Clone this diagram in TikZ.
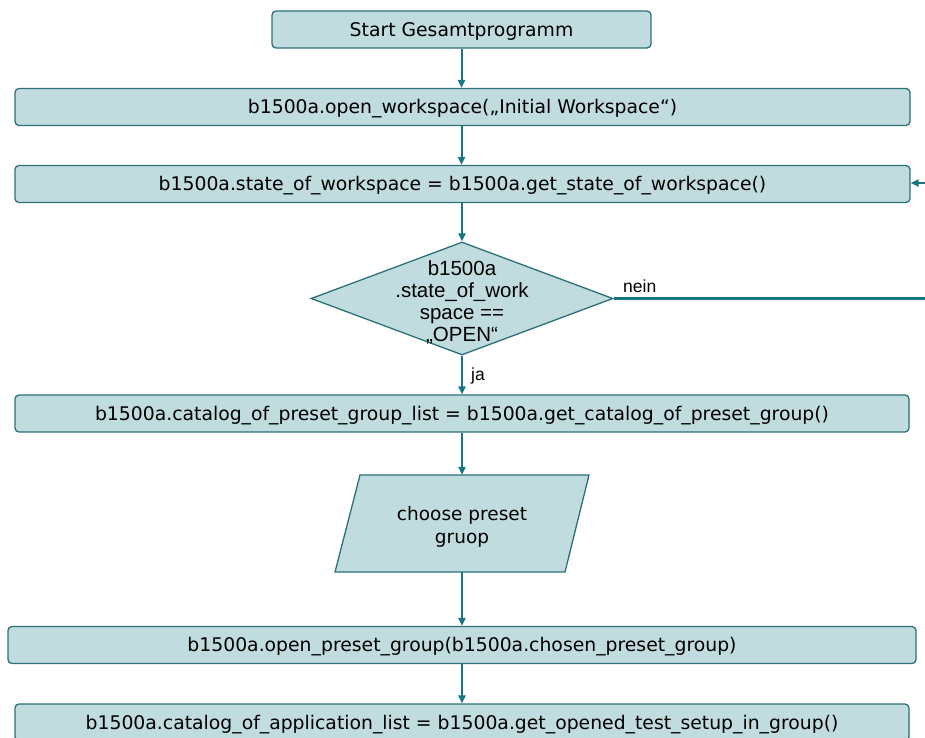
\documentclass[tikz,border=0pt]{standalone}
\usepackage{fontspec}
\setmainfont{DejaVu Sans}
\newfontfamily\labelfont{Liberation Sans}
\usetikzlibrary{shapes.geometric,arrows.meta,calc}

\definecolor{boxfill}{RGB}{193,220,222}
\definecolor{boxline}{RGB}{45,112,120}
\definecolor{arrowc}{RGB}{22,118,130}

\tikzset{
  procbox/.style={draw=boxline, fill=boxfill, rounded corners=4pt, line width=1.3pt,
    minimum height=37pt, inner sep=0pt, text height=14pt, text depth=1pt,
    font=\fontsize{18.8}{22}\selectfont},
  flow/.style={draw=arrowc, line width=2pt, -{Triangle[length=8pt,width=7pt]}},
  branch/.style={draw=arrowc, line width=2.5pt},
  tag/.style={font=\labelfont\fontsize{17.5}{19}\selectfont, inner sep=0pt}
}

\begin{document}
\begin{tikzpicture}[x=1pt,y=-1pt]
\useasboundingbox (0,0) rectangle (925,737);

% process boxes
\node[procbox, minimum width=379pt] (start) at (461.5,29.5) {Start Gesamtprogramm};
\node[procbox, minimum width=895pt] (openws) at (462.5,107) {b1500a.open\_workspace(„Initial Workspace“)};
\node[procbox, minimum width=895pt] (state) at (462.5,184) {b1500a.state\_of\_workspace = b1500a.get\_state\_of\_workspace()};

% decision
\node[diamond, draw=boxline, fill=boxfill, line width=1.3pt, minimum width=302pt,
      minimum height=113pt, inner sep=0pt] (check) at (462,298.5) {};
\node[align=center, inner sep=0pt, font=\labelfont\fontsize{20.5}{22}\selectfont] (checktext)
      at (462,302) {b1500a\\.state\_of\_work\\space ==\\„OPEN“};

\node[procbox, minimum width=894pt] (catalog) at (462,413.5) {b1500a.catalog\_of\_preset\_group\_list = b1500a.get\_catalog\_of\_preset\_group()};

% input (parallelogram)
\draw[draw=boxline, fill=boxfill, line width=1.3pt] (360,475) -- (589,475) -- (565,572) -- (335,572) -- cycle;
\node[minimum width=230pt, minimum height=97pt, inner sep=0pt] (choose) at (462,523.5) {};
\node[align=center, inner sep=0pt, font=\fontsize{18.5}{23}\selectfont] (choosetext)
      at (462,527) {choose preset\\gruop};

\node[procbox, minimum width=908pt] (openpg) at (462,645) {b1500a.open\_preset\_group(b1500a.chosen\_preset\_group)};
\node[procbox, minimum width=894pt] (applist) at (462,722.5) {b1500a.catalog\_of\_application\_list = b1500a.get\_opened\_test\_setup\_in\_group()};

% connectors
\draw[flow] (start.south) -- (start.south |- openws.north);
\draw[flow] (start.south |- openws.south) -- (start.south |- state.north);
\draw[flow] (check.north |- state.south) -- (check.north);
\draw[flow] (check.south) -- (check.south |- catalog.north);
\draw[flow] (check.south |- catalog.south) -- (choose.north);
\draw[flow] (choose.south) -- (choose.south |- openpg.north);
\draw[flow] (choose.south |- openpg.south) -- (choose.south |- applist.north);

% branch "nein" and the return into the state query
\coordinate (neinend) at (925,298.5);
\draw[branch] (check.east) -- (neinend);
\coordinate (loopin) at (925,183);
\draw[flow] (loopin) -- (loopin -| state.east);

\node[tag, anchor=west] (neinlbl) at (623,286) {nein};
\node[tag, anchor=west] (jalbl) at (471,376) {ja};
\end{tikzpicture}
\end{document}
